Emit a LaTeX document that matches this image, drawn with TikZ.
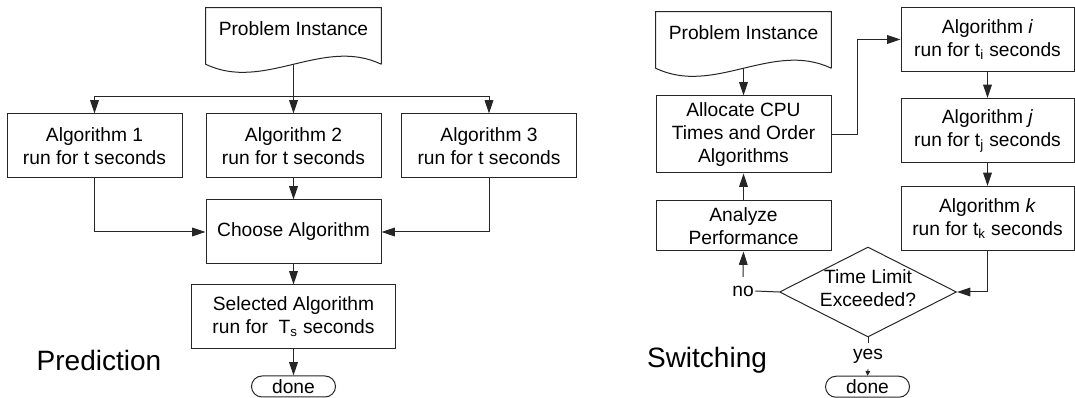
\documentclass[tikz,border=0pt]{standalone}
\usepackage{fontspec}
\setmainfont{Liberation Sans}
\usetikzlibrary{arrows.meta,shapes.geometric,shapes.misc}
\begin{document}
\begin{tikzpicture}[x=0.75pt,y=-0.75pt,
  every node/.style={font=\fontsize{14.4}{17.3}\selectfont},
  ln/.style={line width=0.75pt,draw=black!85},
  arr/.style={ln,-{Triangle[length=10pt,width=6.5pt]}},
  smallarr/.style={ln,-{Triangle[length=3.5pt,width=3.5pt]}},
  box/.style={draw=black!85,line width=0.75pt,rectangle,align=center,inner sep=0pt,
    minimum width=131.25pt,minimum height=48pt},
  rbox/.style={box,minimum width=129.75pt},
  docbox/.style={rectangle,inner sep=0pt,minimum width=131.25pt,minimum height=42pt,
    text height=10pt,text depth=10pt},
  term/.style={draw=black!85,line width=0.75pt,rounded rectangle,inner sep=0pt,
    minimum width=63pt,minimum height=15.75pt},
  decision/.style={draw=black!85,line width=0.75pt,diamond,inner sep=0pt,
    minimum width=132.75pt,minimum height=67.5pt},
  lbl/.style={inner xsep=1pt,inner ysep=4.5pt},
  title/.style={font=\fontsize{21}{25}\selectfont,inner sep=0pt}]
\useasboundingbox (0,0) rectangle (1075,398);

% ---------------- Prediction ----------------
\node[docbox] (doc1) at (293.5,36) {Problem Instance};
\draw[ln] (doc1.south east) -- (doc1.north east) -- (doc1.north west) -- (doc1.south west)
  .. controls +(58.3,28) and +(-58.3,-28) .. (doc1.south east);

\node[box] (a1) at (94.5,146) {Algorithm 1\\run for t seconds};
\node[box] (a2) at (293.5,146) {Algorithm 2\\run for t seconds};
\node[box] (a3) at (489,146) {Algorithm 3\\run for t seconds};
\node[box] (choose) at (293.5,232) {Choose Algorithm};
\node[box,minimum width=153pt] (sel) at (293.5,317) {Selected Algorithm\\run for\ \ T\textsubscript{s} seconds};
\node[term] (done1) at (293.5,386.5) {done};
\node[title] (pred) at (99,360) {Prediction};

\coordinate (bus) at (293.5,97);
\draw[arr] (doc1.south) -- (a2.north);
\draw[arr] (bus) -| (a1.north);
\draw[arr] (bus) -| (a3.north);
\draw[arr] (a2.south) -- (choose.north);
\draw[arr] (a1.south) |- (choose.west);
\draw[arr] (a3.south) |- (choose.east);
\draw[arr] (choose.south) -- (sel.north);
\draw[arr] (sel.south) -- (done1.north);

% ---------------- Switching ----------------
\node[docbox] (doc2) at (743.5,40) {Problem Instance};
\draw[ln] (doc2.south east) -- (doc2.north east) -- (doc2.north west) -- (doc2.south west)
  .. controls +(58.3,28) and +(-58.3,-28) .. (doc2.south east);

\node[box,minimum height=57.75pt] (alloc) at (743.5,134.5) {Allocate CPU\\Times and Order\\Algorithms};
\node[box,minimum height=37.5pt] (analyze) at (743.5,226) {Analyze\\Performance};
\node[rbox] (ai) at (987.5,39.5) {Algorithm \textit{i}\\run for t\textsubscript{i} seconds};
\node[rbox] (aj) at (987.5,130.5) {Algorithm \textit{j}\\run for t\textsubscript{j} seconds};
\node[rbox] (ak) at (987.5,218.5) {Algorithm \textit{k}\\run for t\textsubscript{k} seconds};
\node[decision] (dec) at (868,292) {\makebox[0pt]{\smash{\raisebox{-2.5pt}{\begin{tabular}{@{}c@{}}Time Limit\\Exceeded?\end{tabular}}}}};
\node[lbl,inner ysep=6.5pt] (no) at (743,291) {no};
\node[lbl] (yes) at (868,356) {yes};
\node[term] (done2) at (867.5,386.75) {done};
\node[title] (sw) at (707,360) {Switching};

\draw[arr] (doc2.south) -- (alloc.north);
\draw[arr] (alloc.east) -- ++(26,0) |- (ai.west);
\draw[arr] (ai.south) -- (aj.north);
\draw[arr] (aj.south) -- (ak.north);
\draw[arr] (ak.south) |- (dec.east);
\draw[ln] (dec.west) -- (no.east);
\draw[arr] (no.north) -- (analyze.south);
\draw[arr] (analyze.north) -- (alloc.south);
\draw[ln] (dec.south) -- (yes.north);
\draw[smallarr] (yes.south) -- (done2.north);
\end{tikzpicture}
\end{document}
